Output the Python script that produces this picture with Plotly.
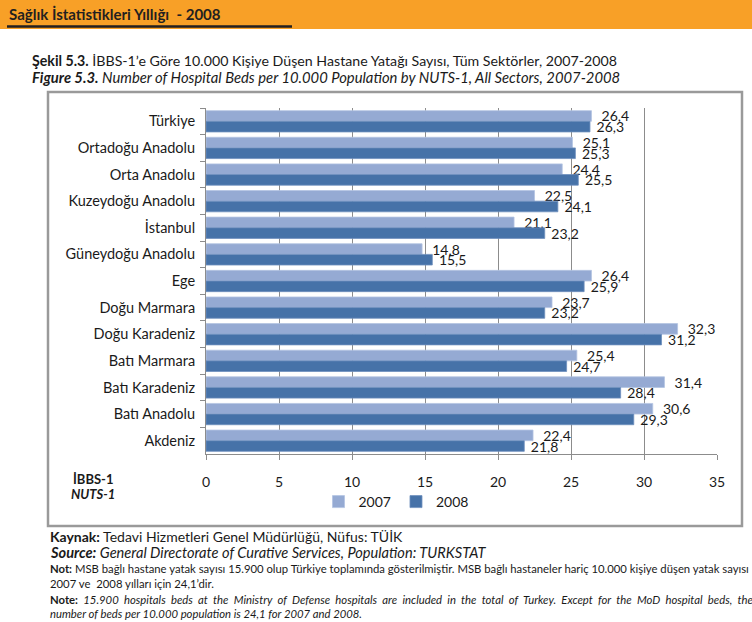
import plotly.graph_objects as go

regions = ["Türkiye", "Ortadoğu Anadolu", "Orta Anadolu", "Kuzeydoğu Anadolu", "İstanbul",
           "Güneydoğu Anadolu", "Ege", "Doğu Marmara", "Doğu Karadeniz", "Batı Marmara",
           "Batı Karadeniz", "Batı Anadolu", "Akdeniz"]
beds_2007 = [26.4, 25.1, 24.4, 22.5, 21.1, 14.8, 26.4, 23.7, 32.3, 25.4, 31.4, 30.6, 22.4]
beds_2008 = [26.3, 25.3, 25.5, 24.1, 23.2, 15.5, 25.9, 23.2, 31.2, 24.7, 28.4, 29.3, 21.8]
x_ticks = [0, 5, 10, 15, 20, 25, 30, 35]

W, H = 752, 622
L, R, T, B = 206, 717, 108, 454
FONT = "Lato"
TXT = "#1a1a1a"

def px(x):
    return (x - L) / (R - L)

def py(y):
    return (B - y) / (B - T)

def justify(s):
    # widen word spacing to mimic the justified paragraph of the reference
    return s.replace(" ", " \u00a0")

fig = go.Figure()
fig.add_trace(go.Bar(
    y=regions, x=beds_2007, name="2007", orientation="h",
    marker=dict(color="#95AAD3", line=dict(color="#B4C4E2", width=0.8)),
    texttemplate="\u00a0\u00a0%{x:.1f}", textposition="outside", constraintext="none",
    textfont=dict(family=FONT, size=14, color=TXT), cliponaxis=False,
))
fig.add_trace(go.Bar(
    y=regions, x=beds_2008, name="2008", orientation="h",
    marker=dict(color="#4672A8", line=dict(color="#6E8FBE", width=0.8)),
    texttemplate="\u00a0%{x:.1f}", textposition="outside", constraintext="none",
    textfont=dict(family=FONT, size=14, color=TXT), cliponaxis=False,
))

shapes = [
    dict(type="rect", xref="paper", yref="paper", x0=px(0), x1=px(W), y0=py(29), y1=py(0),
         fillcolor="#F8A027", line=dict(width=0), layer="below"),
    dict(type="line", xref="paper", yref="paper", x0=px(7), x1=px(292), y0=py(26.5), y1=py(26.5),
         line=dict(color="#231F20", width=2.5)),
    dict(type="rect", xref="paper", yref="paper", x0=px(48), x1=px(742), y0=py(526), y1=py(92),
         line=dict(color="#9A9A9A", width=2.5), layer="below"),
]

def ann(text, x, y, size=14, anchor="left"):
    return dict(text=text, xref="paper", yref="paper", x=px(x), y=py(y), xanchor=anchor,
                yanchor="middle", showarrow=False, font=dict(family=FONT, size=size, color=TXT))

NS = 11.3
annotations = [
    dict(text="<b>Sağlık İstatistikleri Yıllığı  - 2008</b>", xref="paper", yref="paper",
         x=px(7), y=py(14), xanchor="left", yanchor="middle", showarrow=False,
         font=dict(family=FONT, size=15, color="#231F20")),
    ann("<b>Şekil 5.3.</b> İBBS-1’e Göre 10.000 Kişiye Düşen Hastane Yatağı Sayısı, Tüm Sektörler, 2007-2008", 30, 60, size=14.2),
    ann("<i><b>Figure 5.3.</b> Number of Hospital Beds per 10.000 Population by NUTS-1, All Sectors, 2007-2008</i>", 30, 77, size=14.8),
    ann("<b>İBBS-1</b>", 93, 479, size=13, anchor="center"),
    ann("<b><i>NUTS-1</i></b>", 93, 494, size=13, anchor="center"),
    ann("<b>Kaynak:</b> Tedavi Hizmetleri Genel Müdürlüğü, Nüfus: TÜİK", 48, 536),
    ann("<b><i>Source:</i></b><i> General Directorate of Curative Services, Population: TURKSTAT</i>", 48, 552, size=14.6),
    ann("<b>Not:</b> MSB bağlı hastane yatak sayısı 15.900 olup Türkiye toplamında gösterilmiştir. MSB bağlı hastaneler hariç 10.000 kişiye düşen yatak sayısı", 48, 568, size=NS),
    ann("2007 ve  2008 yılları için 24,1’dir.", 48, 583, size=NS),
    ann("<b>Note:</b><i>" + justify(" 15.900 hospitals beds at the Ministry of Defense hospitals are included in the total of Turkey. Except for the MoD hospital beds, the") + "</i>", 48, 599, size=NS),
    ann("<i>number of beds per 10.000 population is 24,1 for 2007 and 2008.</i>", 48, 613, size=NS),
]

fig.update_layout(
    width=W, height=H, margin=dict(l=L, r=W - R, t=T, b=H - B),
    paper_bgcolor="white", plot_bgcolor="white",
    barmode="group", bargap=0.2, bargroupgap=0.0,
    separators=",.",
    font=dict(family=FONT, size=14, color=TXT),
    showlegend=True,
    legend=dict(orientation="h", x=px(396), y=py(502), xanchor="center", yanchor="middle",
                font=dict(family=FONT, size=14, color=TXT), traceorder="normal",
                bgcolor="rgba(0,0,0,0)", itemwidth=30, tracegroupgap=0),
    shapes=shapes, annotations=annotations,
    xaxis=dict(range=[0, 35], tickvals=x_ticks, ticktext=[str(v) for v in x_ticks],
               showgrid=True, gridcolor="#8C8C8C", gridwidth=1,
               showline=True, linecolor="#8C8C8C", linewidth=1,
               ticks="outside", ticklen=5, tickcolor="#8C8C8C",
               ticklabelstandoff=10, zeroline=False, fixedrange=True,
               tickfont=dict(family=FONT, size=14, color=TXT)),
    yaxis=dict(autorange="reversed", showgrid=False, showline=True, linecolor="#8C8C8C", linewidth=1,
               ticks="outside", ticklen=5, tickcolor="#8C8C8C", tickson="boundaries",
               ticklabelstandoff=7, fixedrange=True,
               tickfont=dict(family=FONT, size=14.5, color=TXT)),
)

fig.write_html("out.html")
